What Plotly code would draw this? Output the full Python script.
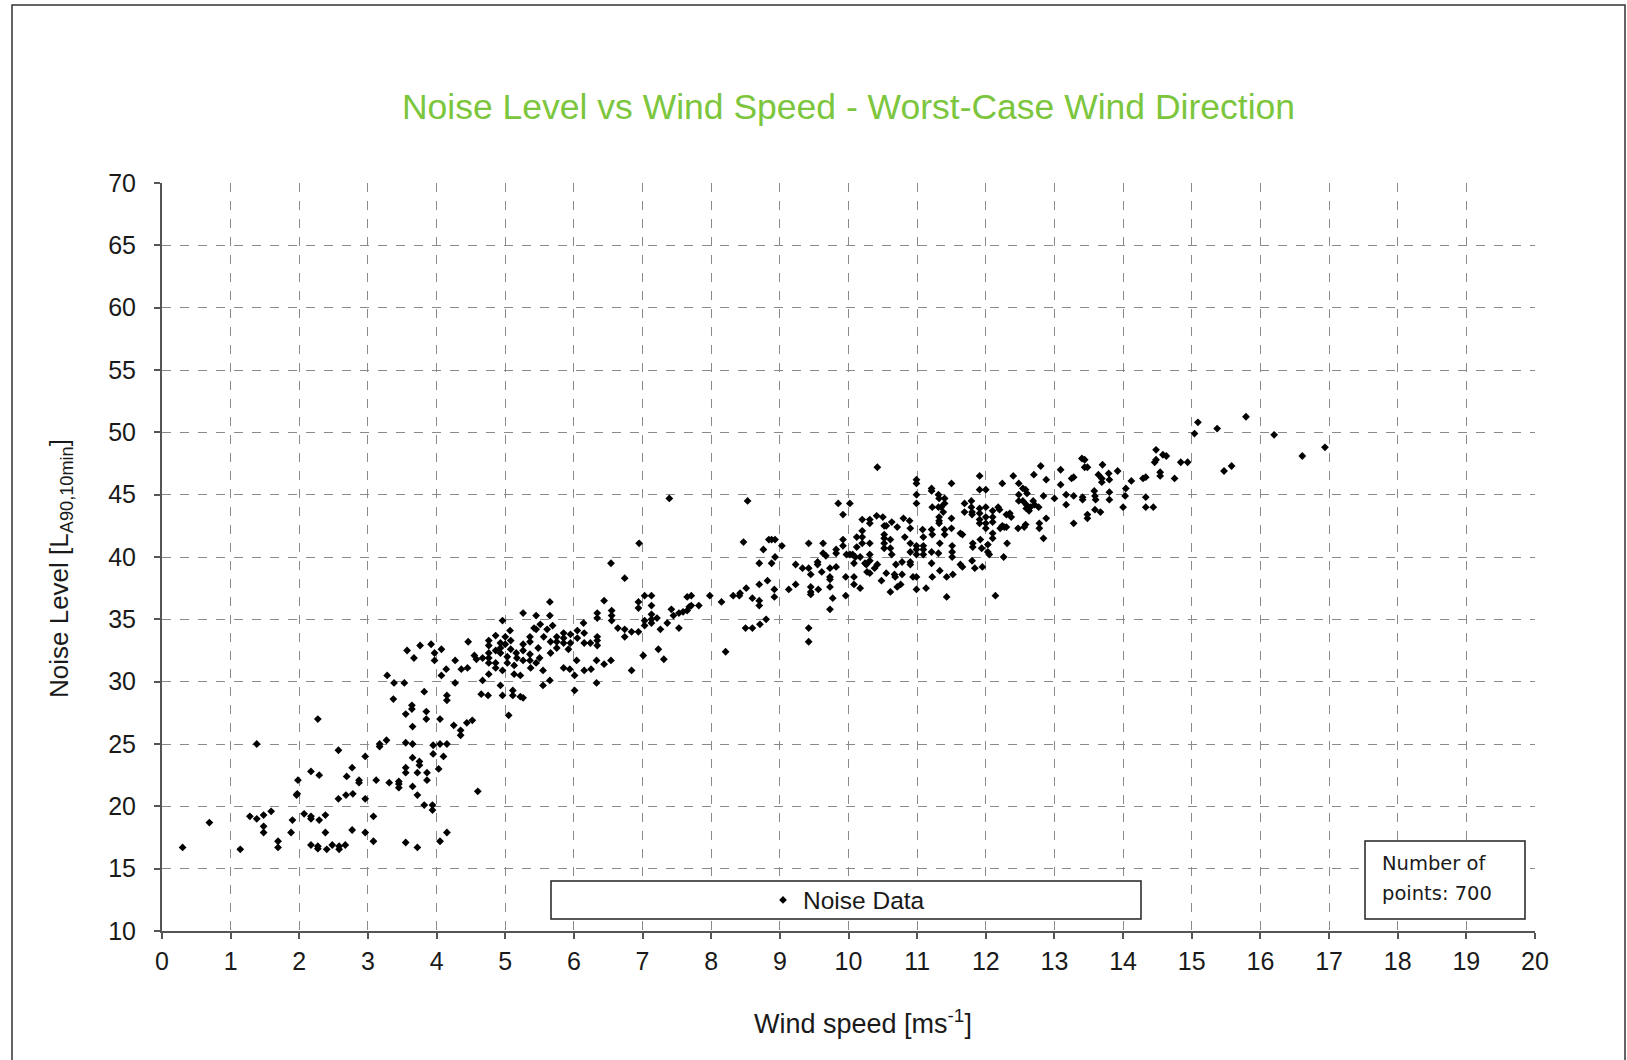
import plotly.graph_objects as go

# ---- data (wind speed [m/s], noise level [dB]) ----
wind_low = [0.30, 0.69, 1.14, 1.38, 1.28, 1.38, 1.48, 1.59, 1.48, 1.48, 1.69, 1.69, 1.88, 1.90, 1.96, 1.97,
            1.98, 2.07, 2.17, 2.17, 2.29, 2.38, 2.17, 2.29, 2.27, 2.17, 2.27, 2.27, 2.40, 2.48, 2.58, 2.58,
            2.67, 2.38, 2.57, 2.68, 2.78, 2.77, 2.69, 2.57, 2.87, 2.87, 2.77, 2.96, 2.96, 2.96, 3.08, 3.08,
            3.12, 3.17, 3.17, 3.27, 3.31, 3.45, 3.45, 3.45, 3.37, 3.55, 3.55, 3.55, 3.64, 3.64, 3.65, 3.65,
            3.65, 3.65, 3.55, 3.55, 3.72, 3.72, 3.75, 3.75, 3.72, 3.82, 3.85, 3.85, 3.86, 3.86, 3.82, 3.94,
            3.94, 3.95, 3.95, 4.03, 4.05, 4.05, 4.10, 4.15, 4.15, 4.05, 4.15, 4.15, 4.25, 4.35, 4.35, 4.44,
            4.52, 4.60, 4.65, 4.75]
noise_low = [16.7, 18.7, 16.55, 25.0, 19.2, 19.0, 19.3, 19.6, 18.4, 17.9, 17.2, 16.7, 17.9, 18.9, 20.9, 21.0,
             22.1, 19.4, 19.2, 19.0, 18.9, 19.3, 22.8, 22.5, 27.0, 16.9, 16.8, 16.6, 16.55, 16.9, 16.8, 16.55,
             16.9, 17.9, 20.6, 20.9, 21.0, 23.1, 22.4, 24.5, 22.1, 21.9, 18.1, 20.6, 24.0, 17.9, 19.2, 17.2,
             22.1, 25.0, 24.8, 25.3, 21.9, 22.0, 21.8, 21.5, 28.6, 17.1, 25.1, 27.4, 28.1, 27.8, 26.4, 25.0,
             23.9, 21.6, 23.1, 22.7, 20.9, 16.7, 23.6, 23.3, 22.7, 29.2, 27.6, 27.0, 22.7, 22.1, 20.1, 20.1,
             19.7, 24.9, 24.2, 23.0, 27.0, 25.0, 24.0, 25.0, 17.9, 17.2, 28.9, 28.5, 26.5, 26.1, 25.7, 26.7,
             26.9, 21.2, 29.0, 28.9]

wind_mid = [6.54, 6.74, 7.03, 6.94, 6.94, 7.03, 7.03, 6.44, 6.34, 6.34, 6.55, 6.55, 6.55, 6.64, 6.74, 6.74,
            6.84, 6.94, 7.01, 6.84, 6.54, 6.44, 6.33, 6.33, 6.25, 6.15, 6.24, 6.34, 6.34, 6.34, 6.15, 6.15,
            6.14, 6.05, 6.05, 6.04, 6.01, 6.01, 5.94, 5.85, 5.92, 5.95, 5.95, 5.85, 5.85, 5.85, 5.75, 5.75,
            5.75, 5.66, 5.66, 5.65, 5.65, 5.69, 5.61, 5.56, 5.51, 5.45, 5.45, 5.42, 5.26, 5.36, 5.36, 5.48,
            5.50, 5.36, 5.36, 5.26, 5.26, 5.26, 5.16, 5.17, 5.07, 5.08, 5.08, 4.96, 5.00, 5.00, 4.93, 4.93,
            4.93, 5.03, 5.03, 4.96, 5.13, 5.13, 5.22, 5.37, 5.45, 5.55, 5.55, 5.65, 4.93, 4.96, 5.05, 5.11,
            5.11, 5.22, 5.26, 4.76, 4.76, 4.76, 4.76, 4.76, 4.76, 4.86, 4.86, 4.86, 4.86, 4.67, 4.67, 4.55,
            4.58, 4.46, 4.45, 4.36, 4.27, 4.27, 4.14, 4.07, 4.07, 3.97, 3.97, 3.92, 3.76, 3.67, 3.57, 3.28,
            3.38, 3.53,
            7.13, 7.13, 7.13, 7.13, 7.13, 7.21, 7.23, 7.31, 7.26, 7.36, 7.42, 7.45, 7.53, 7.53, 7.59, 7.65,
            7.71, 7.65, 7.68, 7.71, 7.82, 7.98, 8.15, 8.21, 8.32, 8.41, 8.42, 8.51, 8.50, 8.60, 8.60, 8.70,
            8.70, 8.71, 8.80, 8.70, 8.82, 8.70]
noise_mid = [39.5, 38.3, 36.9, 36.4, 35.9, 34.9, 34.5, 36.5, 35.5, 35.1, 35.7, 35.3, 34.9, 34.3, 34.2, 33.6,
             34.0, 34.0, 32.1, 30.9, 31.7, 31.4, 31.7, 29.9, 31.0, 30.9, 33.1, 33.3, 33.6, 32.9, 33.1, 33.9,
             34.7, 34.1, 33.5, 31.7, 30.5, 29.3, 31.0, 31.1, 32.6, 33.8, 33.1, 33.9, 33.5, 33.1, 33.6, 33.2,
             32.7, 33.2, 32.3, 36.4, 35.3, 34.5, 34.2, 33.6, 34.6, 35.3, 34.2, 34.3, 35.5, 33.6, 33.2, 32.7,
             31.9, 32.2, 31.7, 33.0, 32.5, 31.7, 32.3, 31.9, 34.1, 33.3, 32.6, 34.9, 33.6, 33.0, 33.1, 32.7,
             32.3, 32.0, 31.5, 30.9, 31.3, 30.6, 30.5, 31.1, 31.5, 30.9, 29.7, 30.1, 29.7, 28.9, 27.3, 29.3,
             28.9, 28.8, 28.7, 33.3, 32.9, 32.3, 31.9, 31.5, 30.6, 33.7, 32.5, 31.5, 31.1, 31.9, 30.1, 32.1,
             31.8, 33.2, 31.1, 31.0, 31.7, 29.9, 31.0, 30.5, 32.6, 32.3, 31.7, 33.0, 32.9, 31.9, 32.5, 30.5,
             29.9, 29.9,
             36.9, 36.1, 35.4, 35.0, 34.7, 35.1, 32.6, 31.8, 34.2, 34.7, 35.8, 35.3, 35.5, 34.3, 35.6, 36.8,
             36.9, 35.7, 36.0, 36.1, 36.1, 36.9, 36.4, 32.4, 36.9, 36.9, 37.1, 37.5, 34.3, 34.3, 36.7, 36.5,
             36.1, 34.6, 35.0, 37.8, 38.1, 39.5]

wind_high = [7.39, 6.95, 8.53, 8.47, 8.76, 8.84, 8.88, 8.93, 9.03, 8.93, 8.88, 8.92, 8.92, 9.13, 9.23, 9.23,
             9.33, 9.42, 9.42, 9.45, 9.45, 9.45, 9.45, 9.42, 9.42, 9.55, 9.55, 9.56, 9.61, 9.63, 9.63, 9.67,
             9.73, 9.73, 9.73, 9.73, 9.73, 9.77, 9.82, 9.82, 9.82, 9.85, 9.92, 9.92, 9.92, 9.96, 9.96, 9.97,
             10.02, 10.02, 10.06, 10.10, 10.12, 10.12, 10.08, 10.08, 10.08, 10.17, 10.17, 10.20, 10.20, 10.20,
             10.20, 10.24, 10.26, 10.27, 10.31, 10.31, 10.31, 10.31, 10.31, 10.31, 10.38, 10.41, 10.42, 10.42,
             10.50, 10.52, 10.55, 10.52, 10.52, 10.52, 10.52, 10.55, 10.48, 10.61, 10.61, 10.63, 10.63, 10.61,
             10.71, 10.69, 10.67, 10.68, 10.71, 10.76, 10.78, 10.78, 10.80, 10.82, 10.89, 10.90, 10.90, 10.90,
             10.90, 10.90, 10.94, 10.99, 10.99, 10.99, 10.99, 10.99, 10.99, 10.99, 10.99, 10.99, 11.08, 11.09,
             11.09, 11.09, 11.09, 11.13]
noise_high = [44.7, 41.1, 44.5, 41.2, 40.6, 41.4, 41.4, 41.4, 40.9, 40.0, 39.5, 37.4, 36.8, 37.4, 37.8, 39.4,
              39.1, 39.1, 41.1, 38.6, 37.6, 37.2, 37.0, 34.3, 33.2, 39.6, 39.4, 37.4, 38.8, 41.1, 40.3, 40.1,
              39.1, 38.4, 38.2, 37.6, 35.8, 36.7, 39.2, 40.6, 40.3, 44.3, 43.4, 41.4, 40.9, 38.4, 36.9, 40.2,
              44.3, 40.2, 40.2, 40.0, 41.6, 40.8, 39.5, 38.4, 37.8, 40.0, 37.5, 43.0, 42.1, 41.6,
              41.1, 39.5, 39.4, 38.8, 43.0, 42.7, 41.1, 40.2, 39.7, 38.7, 39.1, 43.3, 47.2, 39.4,
              43.2, 42.5, 42.5, 41.8, 41.5, 41.1, 40.7, 38.7, 38.1, 41.4, 40.7, 42.8, 40.2, 37.2,
              42.4, 39.4, 38.6, 38.4, 37.6, 37.8, 39.6, 38.6, 43.1, 41.6, 42.9, 42.3, 41.1, 40.4,
              39.6, 39.4, 38.4, 46.2, 45.9, 45.0, 44.3, 40.9, 40.6, 40.2, 38.4, 37.4, 42.2, 41.6,
              40.9, 40.6, 40.2, 37.5]

wind_top = [11.21, 11.21, 11.31, 11.32, 11.40, 11.40, 11.50, 11.22, 11.31, 11.35, 11.38, 11.32, 11.32, 11.32,
            11.21, 11.22, 11.40, 11.40, 11.50, 11.50, 11.33, 11.21, 11.31, 11.21, 11.22, 11.33, 11.51, 11.51,
            11.51, 11.43, 11.52, 11.43, 11.63, 11.66, 11.69, 11.69, 11.63, 11.66, 11.79, 11.79, 11.80, 11.80,
            11.81, 11.81, 11.80, 11.84, 11.91, 11.91, 11.91, 11.91, 11.91, 11.91, 11.92, 11.94, 11.95, 12.00,
            12.00, 12.00, 12.00, 12.00, 12.03, 12.03, 12.05, 12.10, 12.10, 12.10, 12.10, 12.10, 12.14, 12.18,
            12.20, 12.21, 12.24, 12.26, 12.30, 12.35, 12.37, 12.31, 12.24, 12.27, 12.30, 12.40, 12.48, 12.48,
            12.48, 12.47, 12.54, 12.58, 12.60, 12.54, 12.59, 12.59, 12.63, 12.65, 12.58, 12.56, 12.69, 12.71,
            12.70, 12.77, 12.78, 12.78, 12.80, 12.84, 12.84, 12.88, 12.88, 13.00, 13.09, 13.09, 13.17, 13.17,
            13.25, 13.28, 13.28, 13.28, 13.40, 13.44, 13.44, 13.48, 13.41, 13.41, 13.48, 13.48, 13.58, 13.59,
            13.60, 13.59, 13.67, 13.64, 13.69, 13.69, 13.70, 13.79, 13.80, 13.80, 13.80, 13.92, 14.04, 14.00,
            14.12, 14.03, 14.29, 14.33, 14.33, 14.33, 14.44, 14.46, 14.48, 14.48, 14.58, 14.63, 14.54, 14.54,
            14.75, 14.84, 14.94, 15.04, 15.09, 15.37, 15.47, 15.58, 16.20, 16.61, 16.94, 15.79]
noise_top = [45.5, 45.3, 45.0, 44.7, 44.7, 44.3, 45.9, 44.0, 44.0, 44.0, 43.6, 43.2, 42.9, 42.7,
             42.2, 41.8, 42.2, 41.8, 43.1, 42.3, 41.1, 40.4, 40.3, 39.5, 38.4, 38.9, 40.9, 40.4,
             40.0, 38.4, 38.6, 36.8, 41.9, 41.8, 43.6, 44.3, 39.4, 39.2, 44.5, 44.0, 43.6, 43.4,
             41.1, 40.8, 39.7, 39.1, 46.5, 45.4, 43.9, 43.5, 43.0, 42.7, 41.4, 40.7, 39.2, 45.4,
             44.0, 43.2, 42.7, 42.3, 41.0, 40.4, 40.2, 43.7, 43.2, 42.8, 41.9, 41.5, 36.9, 44.0,
             43.8, 42.3, 45.9, 40.0, 43.4, 43.5, 43.2, 41.1, 42.5, 42.4, 42.4, 46.5, 45.9, 45.0,
             44.5, 42.3, 45.5, 45.4, 45.1, 44.5, 44.2, 43.9, 43.7, 44.0, 42.6, 42.4, 44.5, 44.2,
             46.6, 44.0, 42.7, 42.3, 47.3, 44.9, 41.5, 46.2, 43.1, 44.7, 47.0, 45.8, 45.0, 44.2,
             46.3, 46.4, 44.9, 42.7, 47.9, 47.8, 47.2, 47.2, 44.8, 44.6, 43.4, 43.1, 45.3, 44.9,
             44.6, 43.8, 43.6, 46.6, 46.3, 46.0, 47.4, 46.7, 46.2, 45.2, 44.6, 46.9, 45.5, 44.0,
             46.1, 44.9, 46.3, 46.4, 44.8, 44.0, 44.0, 47.6, 47.8, 48.6, 48.2, 48.1, 46.8, 46.5,
             46.3, 47.6, 47.6, 49.9, 50.8, 50.3, 46.9, 47.3, 49.8, 48.1, 48.8, 51.25]

wind_speed = wind_low + wind_mid + wind_high + wind_top
noise_level = noise_low + noise_mid + noise_high + noise_top

x_ticks = list(range(0, 21))
y_ticks = list(range(10, 71, 5))
n_points = 700

# ---- layout geometry (pixels) ----
W, H = 1627, 1060
L, R, T, B = 162, 92, 183, 129
PW, PH = W - L - R, H - T - B


def px(xp):
    return (xp - L) / PW


def py(yp):
    return (H - B - yp) / PH


FONT = "Liberation Sans, Arial, sans-serif"
GREEN = "#7CC63D"
TXT = "#1a1a1a"

fig = go.Figure()
fig.add_trace(go.Scatter(
    x=wind_speed, y=noise_level, mode="markers", name="Noise Data",
    marker=dict(symbol="diamond", size=6, color="black", line=dict(width=0)),
))

axis_common = dict(
    showgrid=True, gridcolor="#8a8a8a", griddash="dash", gridwidth=1,
    showline=True, linecolor="#555555", linewidth=2,
    ticks="outside", ticklen=6, tickcolor="#555555", tickwidth=1.5,
    zeroline=False, tickfont=dict(family=FONT, size=25, color=TXT),
)

fig.update_layout(
    width=W, height=H,
    margin=dict(l=L, r=R, t=T, b=B, pad=0),
    paper_bgcolor="white", plot_bgcolor="white",
    font=dict(family=FONT, color=TXT),
    title=dict(text="Noise Level vs Wind Speed - Worst-Case Wind Direction",
               x=0.5, xref="paper", xanchor="center",
               y=1 - 107 / H, yref="container", yanchor="middle",
               font=dict(family=FONT, size=35.5, color=GREEN)),
    xaxis=dict(range=[0, 20], tickvals=x_ticks, ticklabelstandoff=1, **axis_common),
    yaxis=dict(range=[10, 70], tickvals=y_ticks, ticklabelstandoff=13, **axis_common),
    showlegend=True,
    legend=dict(x=px(763), xanchor="left", y=py(900), yanchor="middle",
                bgcolor="rgba(0,0,0,0)", borderwidth=0,
                font=dict(family=FONT, size=24.5, color=TXT),
                itemsizing="trace"),
    shapes=[
        dict(type="rect", xref="paper", yref="paper",
             x0=px(551), x1=px(1141), y0=py(919), y1=py(881),
             line=dict(color="#222222", width=1.5), fillcolor="white", layer="above"),
        dict(type="rect", xref="paper", yref="paper",
             x0=px(1365), x1=px(1525), y0=py(919), y1=py(841),
             line=dict(color="#222222", width=1.5), fillcolor="white", layer="above"),
        dict(type="rect", xref="paper", yref="paper",
             x0=px(12), x1=px(1625), y0=py(1070), y1=py(5),
             line=dict(color="#333333", width=1.5), fillcolor="rgba(0,0,0,0)", layer="above"),
    ],
    annotations=[
        # axis titles
        dict(text="Wind speed [ms<sup>-1</sup>]", xref="paper", yref="paper",
             x=px(863), y=py(1022), xanchor="center", yanchor="middle", showarrow=False,
             font=dict(family=FONT, size=27, color=TXT)),
        dict(text="Noise Level [L<sub>A90,10min</sub>]", xref="paper", yref="paper",
             x=px(60), y=py(569), xanchor="center", yanchor="middle", showarrow=False,
             textangle=-90, font=dict(family=FONT, size=26, color=TXT)),
        # point-count box
        dict(text="Number of", xref="paper", yref="paper", x=px(1380), y=py(863),
             xanchor="left", yanchor="middle", showarrow=False, align="left",
             font=dict(family="DejaVu Sans, Verdana, sans-serif", size=19.5, color=TXT)),
        dict(text=f"points: {n_points}", xref="paper", yref="paper", x=px(1380), y=py(893),
             xanchor="left", yanchor="middle", showarrow=False, align="left",
             font=dict(family="DejaVu Sans, Verdana, sans-serif", size=19.5, color=TXT)),
    ],
)

fig.write_html("out.html")
